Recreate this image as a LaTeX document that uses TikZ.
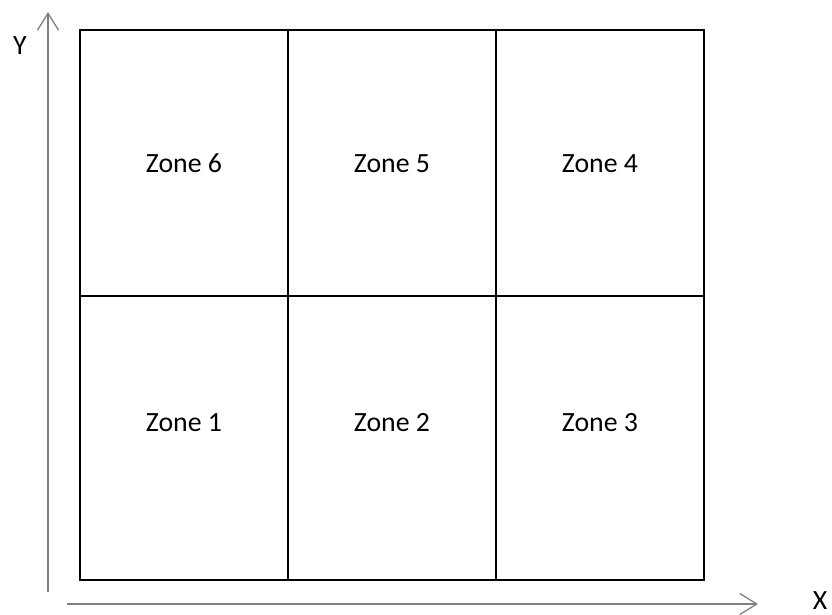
\documentclass[tikz,border=0pt]{standalone}
\usepackage{fontspec}
\setmainfont{Carlito}
\usetikzlibrary{calc, positioning}
\usetikzlibrary{arrows.meta}

\begin{document}
\begin{tikzpicture}[
    x={(1pt,0pt)},
    y={(0pt,-1pt)},
    axis/.style={draw=gray, line width=1.3pt, -{Straight Barb[length=17pt, width=21pt, line width=1.3pt]}},
    zonebox/.style={draw=black, line width=2pt},
    zonelabel/.style={anchor=base, inner sep=0pt, font=\fontsize{27.8}{32}\selectfont}
]
\useasboundingbox (0,0) rectangle (832,615);

\coordinate (BL) at (80,580);
\coordinate (BR) at (704,580);
\coordinate (TR) at (704,30);
\coordinate (TL) at (80,30);
\coordinate (ML) at (80,296);
\coordinate (MR) at (704,296);
\coordinate (C1B) at (288,580);
\coordinate (C1T) at (288,30);
\coordinate (C2B) at (496,580);
\coordinate (C2T) at (496,30);

% Axes
\coordinate (YO) at (48,592);
\coordinate (YE) at (48,12);
\coordinate (XO) at (67,604);
\coordinate (XE) at (758,604);
\draw[axis] (YO) -- (YE);
\draw[axis] (XO) -- (XE);
\node[zonelabel] (ylab) at (20,55) {Y};
\node[zonelabel] (xlab) at (820,609) {X};

% Grid
\draw[zonebox] (BL) -- (BR) -- (TR) -- (TL) -- cycle;
\draw[zonebox] (ML) -- (MR);
\draw[zonebox] (C1B) -- (C1T);
\draw[zonebox] (C2B) -- (C2T);

% Zones
\node[zonelabel] (z6) at (184,172) {Zone 6};
\node[zonelabel] (z5) at (392,172) {Zone 5};
\node[zonelabel] (z4) at (600,172) {Zone 4};
\node[zonelabel] (z1) at (184,431) {Zone 1};
\node[zonelabel] (z2) at (392,431) {Zone 2};
\node[zonelabel] (z3) at (600,431) {Zone 3};
\end{tikzpicture}
\end{document}
